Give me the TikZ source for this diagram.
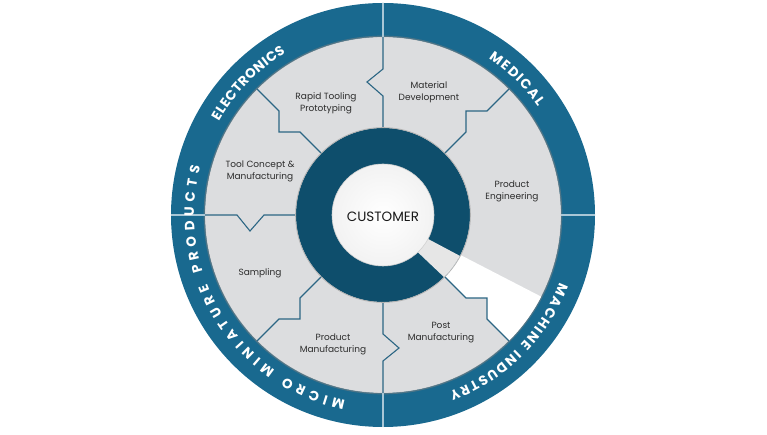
\documentclass[tikz,border=0pt]{standalone}
\usepackage{fontspec}
\setmainfont{Poppins}
\usetikzlibrary{decorations.text}
\definecolor{bandBlue}{HTML}{19698F}
\definecolor{ringBlue}{HTML}{0E4E6C}
\definecolor{discGrey}{HTML}{DCDDDF}
\definecolor{lineBlue}{HTML}{2C6684}
\definecolor{sepLight}{HTML}{A9C7D6}
\definecolor{txtGrey}{HTML}{2C2C2C}
\definecolor{wedgeGrey}{HTML}{E6E6E6}
\newcommand\bandfont{\color{white}\bfseries\fontsize{13.5}{13.5}\selectfont}
\tikzset{
  divline/.style  = {lineBlue, line width=1.1pt, line join=miter},
  bandsep/.style  = {sepLight, line width=1.2pt},
  stage/.style    = {txtGrey, align=center, inner sep=0pt,
                     font=\fontsize{9}{12}\selectfont},
  hub/.style      = {text=black!90, inner sep=0pt, font=\fontsize{13.5}{13.5}\selectfont},
  bandtext/.style = {decorate, decoration={text along path,
                     text={|\bandfont|#1}, text align={fit to path}}},
}
\begin{document}
\begin{tikzpicture}[x=1pt, y=1pt]
  \useasboundingbox (-383,-220) rectangle (384,215);
  % outer band and grey disc
  \fill[bandBlue] (0,0) circle (212);
  \fill[discGrey] (0,0) circle (178);
  \draw[black!50, opacity=0.5, line width=1.5pt] (0,0) circle (178.6);
  % open wedge out to the band
  \fill[white] (0,0) -- (-27.3:178) arc[start angle=-27.3, end angle=-45, radius=178]
    -- (104,-104) -- (104,-83) -- (83,-83) -- (62,-62) -- cycle;
  % dividers between the stages
  \foreach \r in {0,-90,90,180}
    \draw[divline, rotate=\r] (135:178) -- (-104,104) -- (-104,83) -- (-83,83) -- (135:80);
  \foreach \r in {0,90,180}
    \draw[divline, rotate=\r] (0,178) -- (0,146) -- (-16,133) -- (0,119) -- (0,80);
  % band separators
  \foreach \a in {0,90,180,270}
    \draw[bandsep] (\a:178) -- (\a:212);
  % dark ring and hub
  \fill[ringBlue] (0,0) circle (87);
  \draw[black!30, line width=0.8pt] (0,0) circle (87.4);
  \fill[wedgeGrey] (-28:50) -- (-28:87) arc[start angle=-28, end angle=-45.5, radius=87]
    -- (-47:50) -- cycle;
  \shade[inner color=white, outer color=black!5] (0,0) circle (51);
  \draw[black!18, line width=0.6pt] (0,0) circle (51);
  \node[hub] (customer) at (0,-2) {CUSTOMER};
  % stages
  \node[stage] (rapid)    at (-57,112)  {Rapid Tooling\\Prototyping};
  \node[stage] (material) at (46,123)   {Material\\Development};
  \node[stage] (toolcon)  at (-123,44)  {Tool Concept \&\\Manufacturing};
  \node[stage] (prodeng)  at (129,24)   {Product\\Engineering};
  \node[stage] (sampling) at (-123,-58) {Sampling};
  \node[stage] (prodmfg)  at (-50,-129) {Product\\Manufacturing};
  \node[stage] (postmfg)  at (58,-118)  {Post\\Manufacturing};
  % markets on the band
  \path[bandtext=ELECTRONICS] (150.2:189) arc[start angle=150.2, end angle=121, radius=189];
  \path[bandtext=MEDICAL] (56:189) arc[start angle=56, end angle=35, radius=189];
  \path[bandtext=MACHINE INDUSTRY] (-21:189) arc[start angle=-21, end angle=-69.5, radius=189];
  \path[bandtext=MICRO MINIATURE PRODUCTS] (258.5:189) arc[start angle=258.5, end angle=165.2, radius=189];
\end{tikzpicture}
\end{document}
